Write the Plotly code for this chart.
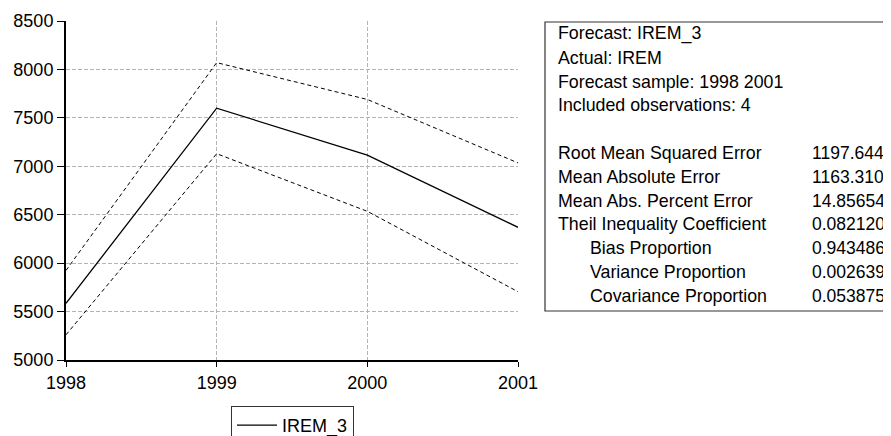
import plotly.graph_objects as go

# forecast of IREM with +/- 2 S.E. bands
years = [1998, 1999, 2000, 2001]
irem_3 = [5585, 7600, 7115, 6370]
upper_band = [5925, 8070, 7690, 7035]
lower_band = [5260, 7130, 6535, 5705]

y_ticks = [5000, 5500, 6000, 6500, 7000, 7500, 8000, 8500]
y_grid = [5500, 6000, 6500, 7000, 7500, 8000]
x_grid = [1999, 2000]

header_lines = ["Forecast: IREM_3", "Actual: IREM", "Forecast sample: 1998 2001",
                "Included observations: 4"]
stat_names = ["Root Mean Squared Error", "Mean Absolute Error", "Mean Abs. Percent Error",
              "Theil Inequality Coefficient", "Bias Proportion", "Variance Proportion",
              "Covariance Proportion"]
stat_values = ["1197.644", "1163.310", "14.85654", "0.082120", "0.943486", "0.002639", "0.053875"]
stat_indent = [False, False, False, False, True, True, True]

# page body has an 8px margin, so the figure sits at (8, 8)
OFF = 8
W, H = 891 - OFF, 436 - OFF
L, R, T, B = 66 - OFF, 373, 21 - OFF, 76
pw, ph = W - L - R, H - T - B

def px(x):
    # page pixel -> paper x
    return (x - OFF - L) / pw

def py(y):
    # page pixel -> paper y
    return (H - B - (y - OFF)) / ph

FONT = "Liberation Sans, Arial, sans-serif"
GRID = dict(showgrid=True, gridcolor="#b4b4b4", griddash="4px,2px", gridwidth=1)

fig = go.Figure()
# empty trace so the grid-only overlay axes get drawn
fig.add_trace(go.Scatter(x=[], y=[], xaxis="x2", yaxis="y2", showlegend=False,
                         hoverinfo="skip"))
fig.add_trace(go.Scatter(x=years, y=upper_band, mode="lines", showlegend=False,
                         line=dict(color="black", width=1, dash="4px,3px")))
fig.add_trace(go.Scatter(x=years, y=lower_band, mode="lines", showlegend=False,
                         line=dict(color="black", width=1, dash="4px,3px")))
fig.add_trace(go.Scatter(x=years, y=irem_3, mode="lines", name="IREM_3",
                         line=dict(color="black", width=1.3)))

# stats box
fig.add_shape(type="rect", xref="paper", yref="paper",
              x0=px(545), x1=px(900), y0=py(311), y1=py(22),
              line=dict(color="#333", width=1.2), fillcolor="white")

row_h = 23.8
row0 = 34
rows = header_lines + [""] + stat_names
for i, txt in enumerate(rows):
    if not txt:
        continue
    yy = py(row0 + i * row_h)
    xx = 556
    if i > len(header_lines):
        k = i - len(header_lines) - 1
        if stat_indent[k]:
            xx = 588
        fig.add_annotation(x=px(810), y=yy, xref="paper", yref="paper", text=stat_values[k],
                           showarrow=False, xanchor="left", yanchor="middle",
                           font=dict(size=17.5, color="black", family=FONT))
    fig.add_annotation(x=px(xx), y=yy, xref="paper", yref="paper", text=txt,
                       showarrow=False, xanchor="left", yanchor="middle",
                       font=dict(size=17.8, color="black", family=FONT))

fig.update_layout(
    width=W, height=H,
    margin=dict(l=L, r=R, t=T, b=B, autoexpand=False),
    plot_bgcolor="white", paper_bgcolor="white",
    font=dict(family=FONT, size=18, color="black"),
    showlegend=True,
    legend=dict(x=px(231), y=py(406), xanchor="left", yanchor="top",
                bordercolor="#333", borderwidth=1, bgcolor="white", itemwidth=40,
                font=dict(size=18, color="black")),
    # overlay axes only carry the grid, so no grid line sits on 2001 / 8500
    xaxis2=dict(overlaying="x", anchor="y2", range=[1998, 2001], tickvals=x_grid,
                showticklabels=False, ticks="", showline=False, zeroline=False, **GRID),
    yaxis2=dict(overlaying="y", anchor="x2", range=[5000, 8500], tickvals=y_grid,
                showticklabels=False, ticks="", showline=False, zeroline=False, **GRID),
)
fig.layout.xaxis.update(range=[1998, 2001], tickvals=years, ticktext=[str(y) for y in years],
                        showline=True, linecolor="black", linewidth=2,
                        ticks="outside", ticklen=5, tickcolor="black",
                        showgrid=False, zeroline=False)
fig.layout.yaxis.update(range=[5000, 8500], tickvals=y_ticks,
                        showline=True, linecolor="black", linewidth=2,
                        ticks="outside", ticklen=7, tickcolor="black",
                        showgrid=False, zeroline=False)

fig.write_html("out.html")
